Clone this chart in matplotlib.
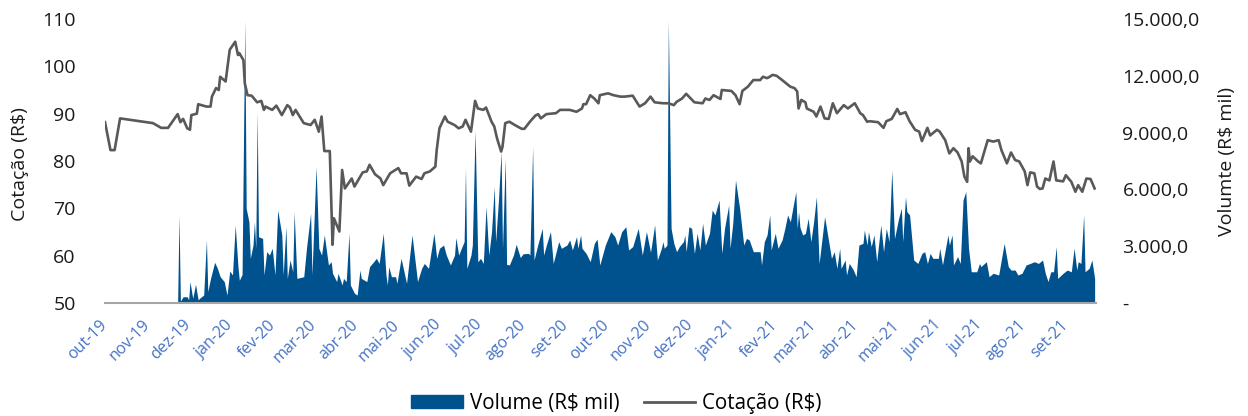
import numpy as np
import pandas as pd
import matplotlib
matplotlib.use("Agg")
import matplotlib.pyplot as plt
from matplotlib.patches import Patch
from matplotlib.lines import Line2D

plt.rcParams['font.family'] = ['Open Sans', 'DejaVu Sans']

start_date = '2019-10-01'
end_offset = 723

month_labels = ['out-19', 'nov-19', 'dez-19', 'jan-20', 'fev-20', 'mar-20', 'abr-20', 'mai-20',
                'jun-20', 'jul-20', 'ago-20', 'set-20', 'out-20', 'nov-20', 'dez-20', 'jan-21',
                'fev-21', 'mar-21', 'abr-21', 'mai-21', 'jun-21', 'jul-21', 'ago-21', 'set-21']

# Cotação (R$): days since 2019-10-01 and price
price_day = [0, 4, 7, 11, 35, 41, 46, 53, 55, 57, 60, 62, 63, 67, 68, 74, 77, 78, 81, 83,
             84, 88, 91, 95, 97, 98, 101, 102, 104, 107, 111, 114, 116, 117, 122, 125, 129, 133, 135, 137,
             139, 145, 150, 153, 156, 158, 160, 164, 166, 167, 171, 173, 175, 180, 182, 188, 191, 193, 197, 201,
             203, 208, 214, 216, 220, 222, 227, 231, 233, 237, 241, 242, 244, 248, 250, 255, 258, 261, 263, 267,
             270, 272, 276, 278, 282, 284, 286, 289, 290, 292, 295, 299, 304, 306, 310, 314, 316, 318, 322, 329,
             332, 339, 344, 348, 349, 351, 354, 357, 360, 361, 367, 371, 376, 379, 385, 390, 394, 398, 401, 407,
             411, 415, 417, 421, 424, 430, 436, 438, 441, 444, 449, 450, 457, 460, 463, 465, 469, 473, 478, 480,
             483, 485, 487, 490, 494, 500, 503, 505, 506, 508, 511, 512, 517, 519, 522, 525, 528, 531, 534, 539,
             542, 547, 551, 553, 556, 558, 564, 568, 570, 574, 578, 580, 584, 587, 591, 594, 596, 600, 602, 607,
             609, 613, 616, 619, 622, 625, 627, 629, 630, 631, 633, 637, 639, 644, 648, 652, 654, 658, 661, 664,
             667, 671, 673, 675, 678, 680, 682, 684, 686, 689, 692, 694, 699, 701, 705, 708, 710, 713, 716, 719,
             722]
price_val = [88.2, 82.3, 82.3, 89.0, 88.0, 87.0, 87.0, 89.9, 88.2, 88.9, 86.9, 86.6, 89.7, 90.0, 92.0, 91.5, 91.5, 93.6, 95.4, 95.0,
             97.8, 96.8, 103.5, 105.2, 102.4, 102.8, 101.3, 96.4, 93.9, 93.8, 92.4, 92.7, 90.8, 91.5, 90.8, 91.7, 89.7, 91.8, 91.3, 89.7,
             90.8, 88.0, 87.6, 88.7, 86.2, 89.4, 82.1, 82.1, 62.3, 67.9, 65.1, 78.1, 74.2, 76.3, 74.6, 77.6, 77.8, 79.2, 77.2, 76.3,
             74.9, 77.4, 78.5, 77.4, 77.4, 74.8, 76.7, 76.2, 77.4, 77.8, 78.8, 82.3, 86.9, 89.4, 88.3, 87.6, 86.9, 87.3, 88.7, 86.2,
             92.7, 91.1, 90.8, 91.3, 88.3, 87.3, 84.8, 82.0, 83.0, 88.0, 88.3, 87.6, 86.8, 86.8, 88.3, 89.6, 89.9, 89.0, 89.9, 90.1,
             90.8, 90.8, 90.4, 91.1, 92.0, 92.0, 93.9, 93.2, 92.2, 93.9, 94.3, 93.9, 93.6, 93.6, 93.8, 91.5, 92.2, 93.6, 92.4, 92.2,
             92.2, 91.8, 92.5, 93.2, 94.2, 92.4, 92.2, 93.2, 92.9, 93.9, 93.1, 95.0, 94.8, 93.9, 92.0, 94.8, 95.7, 97.1, 97.1, 97.8,
             97.5, 97.8, 98.2, 98.0, 97.1, 95.7, 95.4, 94.7, 91.1, 92.9, 92.4, 91.1, 90.4, 89.4, 91.5, 89.0, 88.9, 92.2, 90.1, 91.8,
             91.1, 92.2, 90.1, 89.7, 88.3, 88.4, 88.2, 87.0, 88.4, 88.9, 91.0, 89.9, 90.3, 88.4, 86.6, 86.2, 84.2, 87.0, 85.4, 86.6,
             86.2, 84.4, 81.6, 82.7, 81.8, 79.9, 76.7, 75.6, 82.7, 79.9, 81.0, 79.9, 79.5, 84.4, 84.1, 84.4, 82.3, 79.5, 81.8, 80.2,
             79.9, 77.8, 74.9, 77.6, 77.4, 74.6, 74.1, 74.2, 76.3, 75.9, 79.9, 75.9, 75.7, 77.0, 75.6, 73.5, 74.9, 73.5, 76.3, 76.2,
             74.2]

# Volume (R$ mil): days since 2019-10-01 and volume
vol_day = [0, 44, 53, 54, 55, 57, 60, 61, 62, 64, 65, 66, 68, 69, 72, 74, 75, 77, 80, 82,
           84, 87, 89, 91, 93, 95, 97, 98, 100, 102, 103, 105, 106, 108, 109, 110, 111, 112, 115, 116,
           118, 120, 122, 124, 126, 129, 130, 132, 133, 135, 137, 138, 140, 145, 147, 150, 151, 154, 156, 158,
           160, 163, 165, 166, 169, 170, 173, 174, 176, 178, 179, 182, 184, 186, 187, 191, 193, 196, 198, 200,
           203, 205, 206, 207, 209, 212, 213, 216, 220, 224, 228, 231, 233, 236, 240, 242, 244, 247, 249, 252,
           255, 256, 258, 260, 262, 263, 264, 267, 268, 270, 272, 274, 276, 278, 280, 282, 284, 285, 287, 289,
           290, 292, 293, 295, 298, 300, 303, 305, 309, 310, 312, 313, 316, 319, 320, 322, 325, 327, 331, 333,
           337, 339, 341, 344, 345, 347, 348, 351, 354, 357, 359, 361, 365, 369, 372, 374, 377, 380, 382, 385,
           389, 392, 395, 398, 401, 403, 406, 407, 408, 410, 411, 413, 415, 417, 419, 422, 423, 424, 426, 428,
           430, 432, 434, 436, 438, 441, 443, 445, 448, 450, 452, 455, 456, 458, 460, 463, 466, 468, 470, 473,
           475, 478, 479, 481, 483, 485, 486, 489, 491, 494, 496, 498, 500, 502, 504, 505, 506, 507, 509, 511,
           513, 515, 517, 519, 521, 525, 528, 530, 532, 534, 536, 537, 540, 541, 543, 546, 548, 550, 553, 554,
           556, 557, 559, 561, 563, 566, 568, 570, 572, 574, 576, 579, 581, 582, 584, 585, 587, 590, 593, 596,
           598, 600, 602, 604, 608, 609, 611, 615, 616, 618, 619, 622, 624, 626, 628, 630, 632, 636, 638, 639,
           643, 645, 648, 652, 656, 659, 661, 664, 666, 669, 672, 675, 678, 681, 684, 686, 688, 690, 692, 694,
           695, 699, 702, 705, 707, 709, 710, 712, 714, 715, 718, 720, 722]
vol_val = [0, 0, 0, 4650, 100, 330, 330, 160, 1130, 250, 600, 990, 160, 250, 420, 3330, 600, 1300, 2150, 1830,
           1390, 1130, 420, 1690, 1480, 4120, 1920, 1200, 1500, 14940, 5000, 4290, 2360, 3060, 4290, 2890, 10100, 3500, 3410, 1480,
           2710, 2530, 2890, 1480, 4910, 3590, 1480, 4030, 1300, 2270, 1650, 4820, 1300, 1390, 2890, 4730, 1480, 7200, 2890, 2530,
           3590, 2010, 2180, 1570, 1130, 1570, 950, 1300, 1130, 3680, 950, 510, 420, 1740, 1300, 1130, 1920, 2180, 2360, 2090,
           3680, 1480, 950, 1920, 1390, 1390, 1040, 2360, 1040, 3590, 1130, 1830, 2090, 1830, 3680, 2360, 2890, 3060, 2530, 2010,
           2530, 3450, 2530, 2890, 3240, 7110, 1830, 2530, 3060, 9130, 2180, 2360, 2090, 5090, 2530, 3770, 6140, 3240, 5350, 7990,
           2890, 7640, 2040, 2010, 2530, 3100, 2400, 2600, 2620, 2530, 8250, 2270, 3150, 3940, 2530, 3060, 3770, 2090, 3240, 2890,
           3060, 3330, 2800, 3500, 2890, 3590, 2890, 2620, 2180, 3150, 3380, 2010, 3060, 3770, 3500, 3060, 3770, 4030, 2800, 2980,
           3940, 2530, 3770, 2680, 4120, 2270, 2900, 3240, 2890, 3060, 14940, 3940, 3150, 2710, 2980, 3240, 3590, 2710, 4030, 3940,
           2620, 3680, 2800, 4210, 3060, 3680, 4910, 4650, 5440, 2620, 3940, 5170, 2890, 4210, 6490, 5000, 3060, 3410, 3330, 2710,
           2710, 2710, 2010, 3240, 3590, 4650, 2800, 3680, 2890, 3330, 3940, 4650, 4290, 5090, 5880, 3940, 4820, 4000, 3590, 3680,
           4470, 3240, 4290, 5610, 2090, 4560, 3240, 2360, 2710, 1830, 2890, 1830, 2270, 1480, 2090, 1740, 1390, 3060, 3150, 3850,
           3060, 3770, 2980, 3590, 2180, 4120, 2710, 3940, 3240, 7020, 3410, 4470, 5000, 3240, 5610, 4820, 4650, 2270, 2090, 2620,
           2710, 2090, 2620, 2360, 2360, 2890, 2010, 3590, 3060, 3590, 2010, 2450, 2090, 5440, 5880, 2890, 1650, 1650, 2090, 1920,
           2180, 1390, 1570, 1480, 3150, 1920, 1740, 1740, 1480, 1570, 2010, 2090, 2180, 2090, 2270, 1570, 1130, 1650, 1650, 2980,
           1300, 1570, 1740, 1650, 2890, 1740, 2180, 2090, 4650, 1650, 1830, 2270, 1300]

BLUE = '#00528F'
GRAY = '#595959'

base = np.datetime64(start_date)
price_dates = base + np.array(price_day).astype('timedelta64[D]')
vol_dates = base + np.array(vol_day).astype('timedelta64[D]')
month_ticks = pd.date_range(start_date, periods=len(month_labels), freq='MS')

fig = plt.figure(figsize=(12.48, 4.16), dpi=100)
ax = fig.add_axes([105 / 1248, 1 - 303 / 416, 991 / 1248, 284 / 416])
ax2 = ax.twinx()
ax.set_zorder(ax2.get_zorder() + 1)
ax.patch.set_visible(False)

ax2.fill_between(vol_dates, vol_val, 0, color=BLUE, lw=0)
ax2.set_ylim(0, 15000)
ax.plot(price_dates, price_val, color=GRAY, lw=1.9)
ax.set_ylim(50, 110)
ax.set_xlim(base, base + np.timedelta64(end_offset, 'D'))

for a in (ax, ax2):
    for s in a.spines.values():
        s.set_visible(False)
ax.spines['bottom'].set_visible(True)
ax.spines['bottom'].set_color('#A6A6A6')
ax.spines['bottom'].set_linewidth(1.5)

ax.set_yticks(range(50, 111, 10))
ax.tick_params(axis='y', length=0, pad=21, labelsize=14, colors='#1a1a1a')


def fmt(v):
    if v == 0:
        return '-'
    return f"{v:,.1f}".replace(',', 'X').replace('.', ',').replace('X', '.')


vticks = list(range(0, 15001, 3000))
ax2.set_yticks(vticks)
ax2.set_yticklabels([fmt(v) for v in vticks])
ax2.tick_params(axis='y', length=0, pad=19, labelsize=14, colors='#1a1a1a')

ax.set_xticks(month_ticks)
ax.set_xticklabels(month_labels, rotation=45, ha='right', va='center', rotation_mode='anchor',
                   color='#4472C4', fontsize=11.5)
ax.tick_params(axis='x', length=0, pad=14)

ax.set_ylabel('Cotação (R$)', fontsize=14, color='#1a1a1a')
ax.yaxis.set_label_coords(-0.077, 0.49)
ax2.set_ylabel('Volumte (R$ mil)', fontsize=14, color='#1a1a1a')
ax2.yaxis.set_label_coords(1.123, 0.5)

handles = [Patch(color=BLUE), Line2D([0], [0], color=GRAY, lw=2)]
fig.legend(handles, ['Volume (R$ mil)', 'Cotação (R$)'], loc='lower center',
           bbox_to_anchor=(0.494, -0.04), ncol=2, frameon=False, fontsize=14.8,
           handlelength=2.5, handleheight=0.6, handletextpad=0.35, columnspacing=1.2)

fig.savefig('out.png', dpi=100)
